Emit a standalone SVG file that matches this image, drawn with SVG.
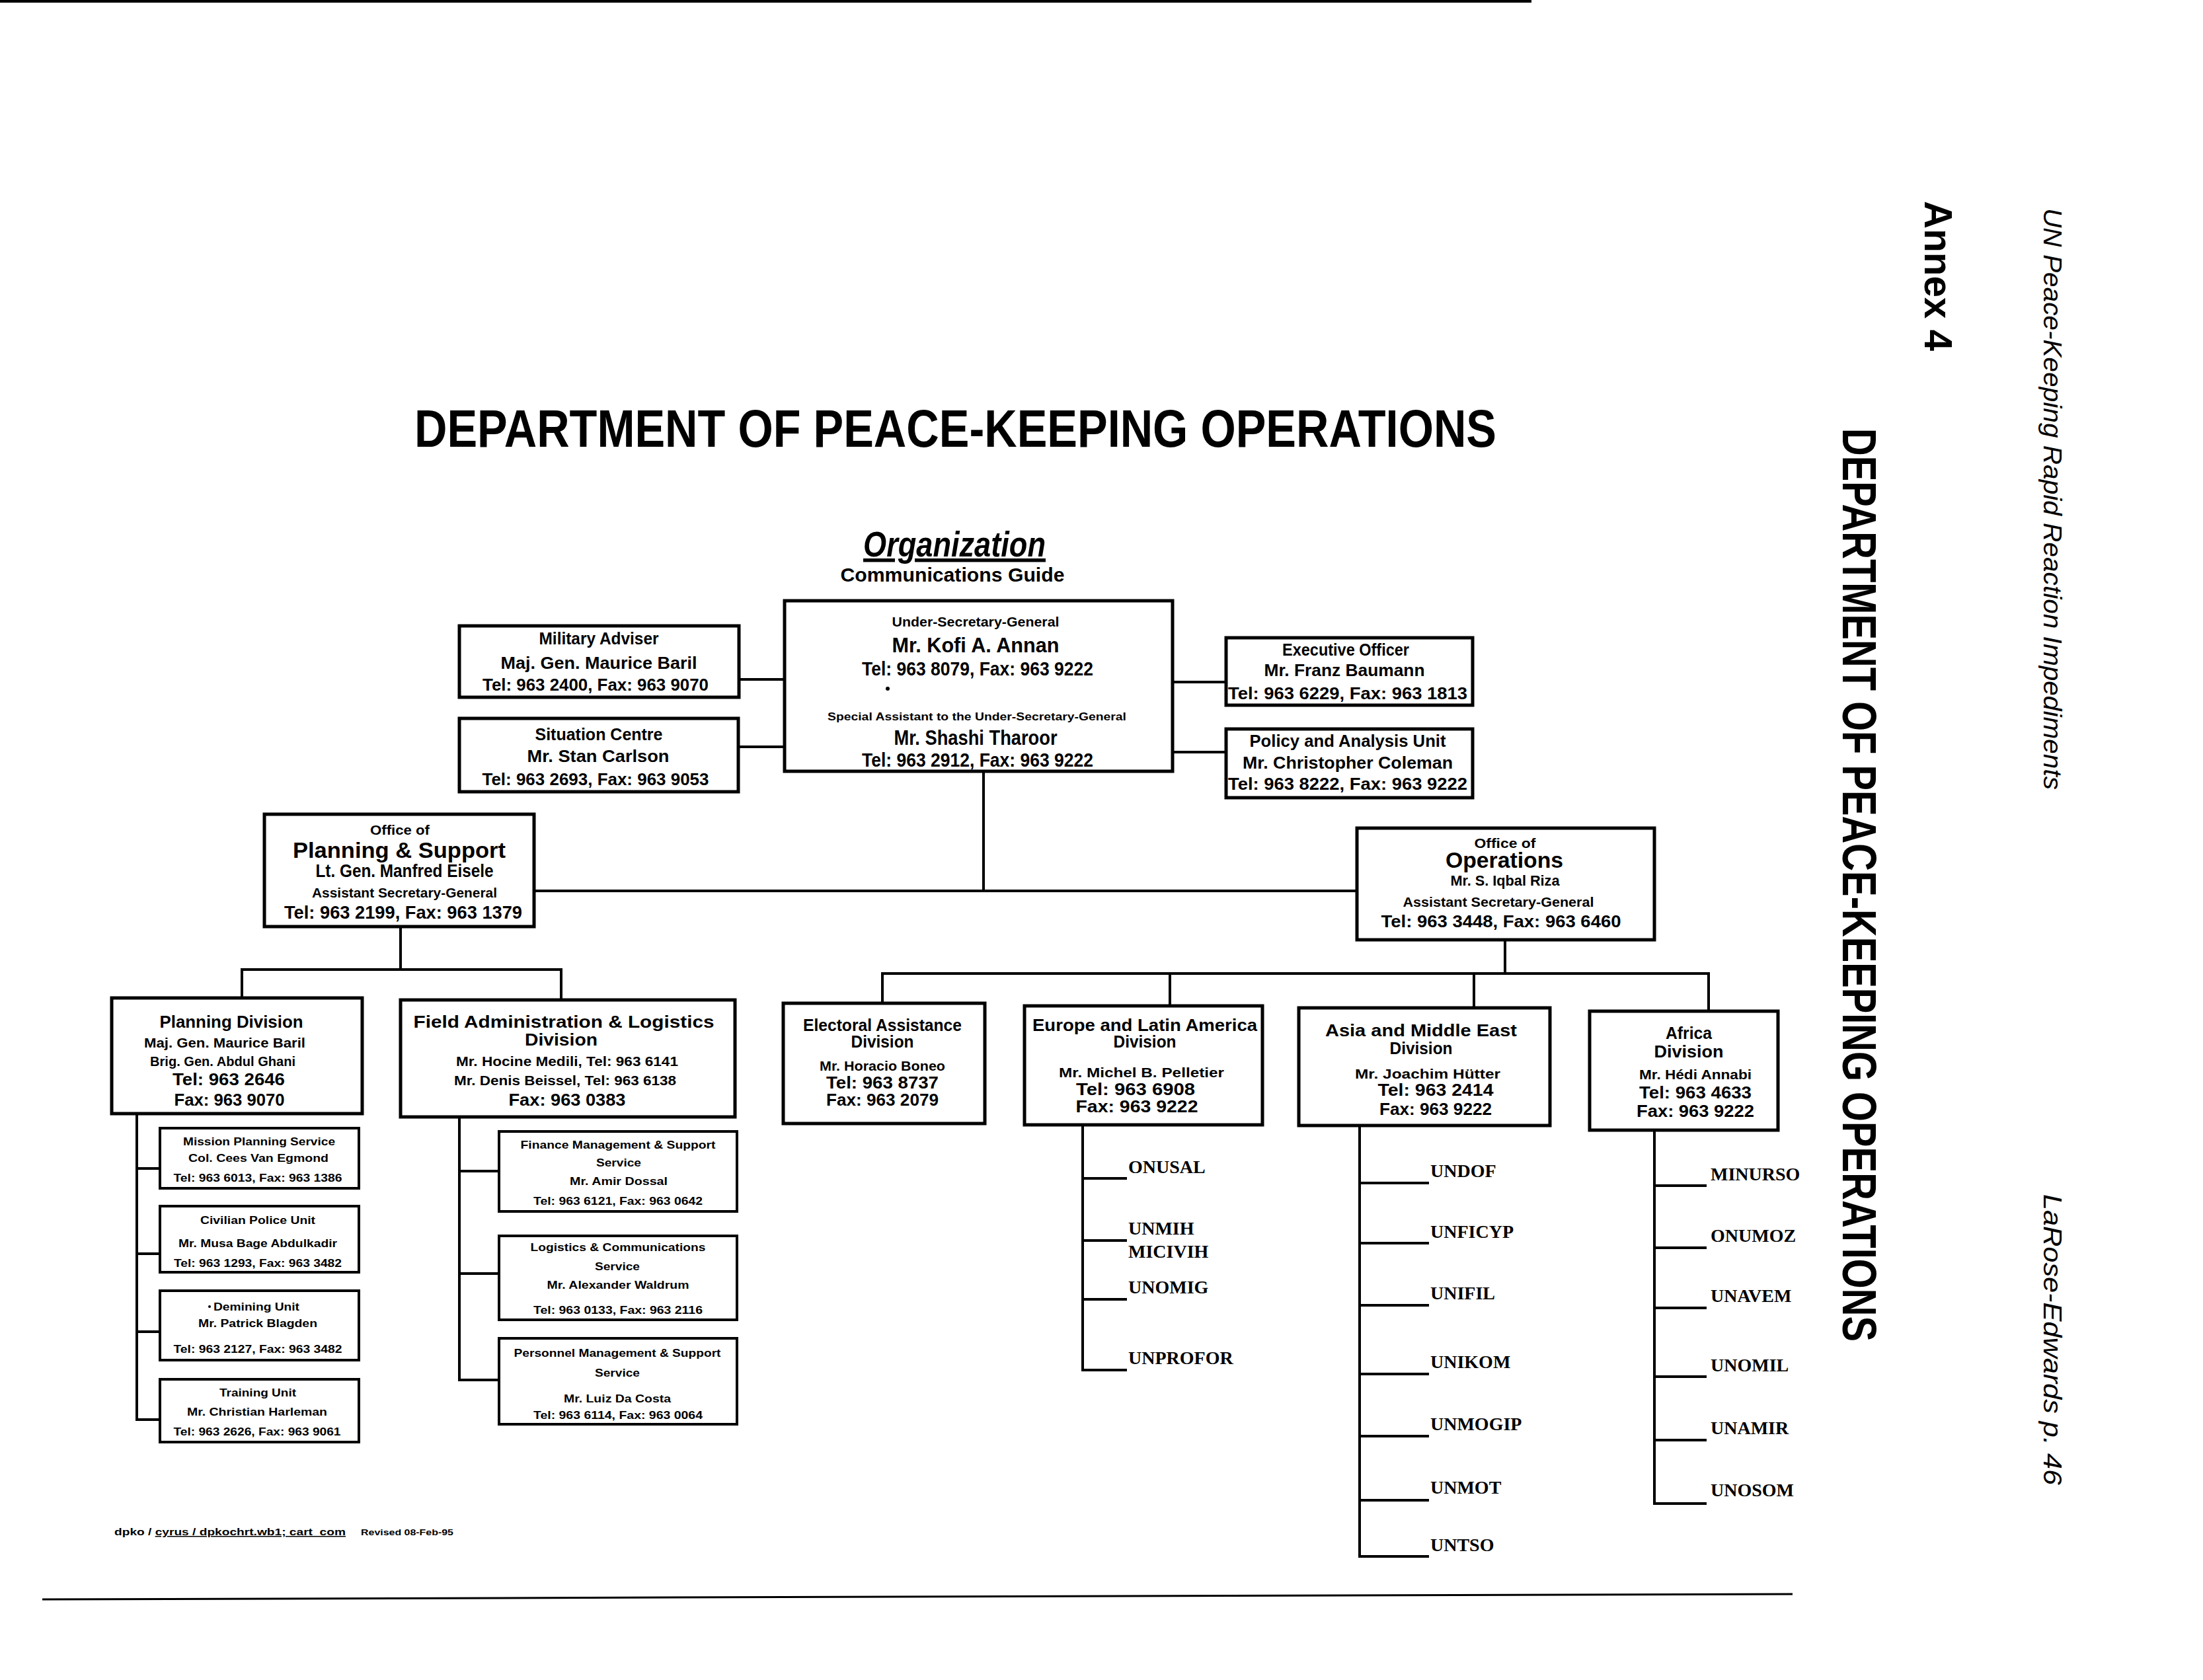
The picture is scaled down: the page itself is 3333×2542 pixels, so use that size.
<svg xmlns="http://www.w3.org/2000/svg" width="3333" height="2542" viewBox="0 0 3333 2542">
<style>
.bx{fill:none;stroke:#000;stroke-width:5}
.sb{fill:none;stroke:#000;stroke-width:4}
.c{fill:none;stroke:#000;stroke-width:4;stroke-linecap:square}
text{font-family:"Liberation Sans",Arial,sans-serif;font-weight:bold;fill:#000}
.m{text-anchor:middle}
.s{font-family:"Liberation Serif","Times New Roman",serif;font-size:28px}
.rot{font-weight:normal;font-style:italic;font-size:38px}
</style>
<rect x="0" y="0" width="3333" height="2542" fill="#fff"/>
<line x1="0" y1="2" x2="2317" y2="2" stroke="#000" stroke-width="4"/>
<line x1="64" y1="2420" x2="2712" y2="2412" stroke="#000" stroke-width="3"/>

<g id="headings">
<text x="627" y="676" font-size="80" textLength="1637" lengthAdjust="spacingAndGlyphs">DEPARTMENT OF PEACE-KEEPING OPERATIONS</text>
<text x="1444" y="842" class="m" font-size="54" font-style="italic" text-decoration="underline" textLength="276" lengthAdjust="spacingAndGlyphs">Organization</text>
<text x="1441" y="880" class="m" font-size="30" textLength="339" lengthAdjust="spacingAndGlyphs">Communications Guide</text>
<text transform="translate(3092,315) rotate(90)" class="rot" textLength="880" lengthAdjust="spacingAndGlyphs">UN Peace-Keeping Rapid Reaction Impediments</text>
<text transform="translate(3092,1807) rotate(90)" class="rot" textLength="440" lengthAdjust="spacingAndGlyphs">LaRose-Edwards  p. 46</text>
<text transform="translate(2912,304) rotate(90)" font-size="60" textLength="227" lengthAdjust="spacingAndGlyphs">Annex 4</text>
<text transform="translate(2788,648) rotate(90)" font-size="72" textLength="1382" lengthAdjust="spacingAndGlyphs">DEPARTMENT OF PEACE-KEEPING OPERATIONS</text>
<text x="173" y="2323" font-size="15" textLength="350" lengthAdjust="spacingAndGlyphs">dpko / <tspan text-decoration="underline">cyrus / dpkochrt.wb1; cart_com</tspan></text>
<text x="546" y="2323" font-size="12" textLength="140" lengthAdjust="spacingAndGlyphs">Revised 08-Feb-95</text>
</g>

<g id="connectors">
<path class="c" d="M1118,1028H1187 M1117,1130H1187 M1774,1032H1855 M1774,1138H1855"/>
<path class="c" d="M1488,1167V1348 M808,1348H2053"/>
<path class="c" d="M606,1402V1467 M366,1467H849 M366,1467V1510 M849,1467V1513"/>
<path class="c" d="M2277,1422V1473 M1335,1473H2585 M1335,1473V1518 M1770,1473V1522 M2230,1473V1525 M2585,1473V1530"/>
<path class="c" d="M207,1685V2148 M207,1768H242 M207,1897H242 M207,2015H242 M207,2148H242"/>
<path class="c" d="M695,1690V2088 M695,1772H755 M695,1927H755 M695,2088H755"/>
<path class="c" d="M1638,1702V2073 M1638,1783H1703 M1638,1877H1703 M1638,1966H1703 M1638,2073H1703"/>
<path class="c" d="M2057,1703V2355 M2057,1790H2160 M2057,1881H2160 M2057,1975H2160 M2057,2079H2160 M2057,2173H2160 M2057,2270H2160 M2057,2355H2160"/>
<path class="c" d="M2503,1710V2275 M2503,1794H2580 M2503,1888H2580 M2503,1979H2580 M2503,2083H2580 M2503,2179H2580 M2503,2275H2580"/>
</g>

<g id="usg">
<rect class="bx" x="1187" y="909" width="587" height="258"/>
<text x="1476" y="948" class="m" font-size="21" textLength="253" lengthAdjust="spacingAndGlyphs">Under-Secretary-General</text>
<text x="1476" y="987" class="m" font-size="31" textLength="253" lengthAdjust="spacingAndGlyphs">Mr. Kofi A. Annan</text>
<text x="1479" y="1022" class="m" font-size="29" textLength="350" lengthAdjust="spacingAndGlyphs">Tel: 963 8079, Fax: 963 9222</text>
<circle cx="1343" cy="1042" r="3" fill="#000"/>
<text x="1478" y="1090" class="m" font-size="17" textLength="452" lengthAdjust="spacingAndGlyphs">Special Assistant to the Under-Secretary-General</text>
<text x="1476" y="1127" class="m" font-size="31" textLength="247" lengthAdjust="spacingAndGlyphs">Mr. Shashi Tharoor</text>
<text x="1479" y="1160" class="m" font-size="29" textLength="350" lengthAdjust="spacingAndGlyphs">Tel: 963 2912, Fax: 963 9222</text>
</g>

<g id="military-adviser">
<rect class="bx" x="695" y="947" width="423" height="108"/>
<text x="906" y="975" class="m" font-size="26" textLength="181" lengthAdjust="spacingAndGlyphs">Military Adviser</text>
<text x="906" y="1012" class="m" font-size="26" textLength="297" lengthAdjust="spacingAndGlyphs">Maj. Gen. Maurice Baril</text>
<text x="901" y="1045" class="m" font-size="26" textLength="342" lengthAdjust="spacingAndGlyphs">Tel: 963 2400, Fax: 963 9070</text>
</g>

<g id="situation-centre">
<rect class="bx" x="695" y="1087" width="422" height="111"/>
<text x="906" y="1120" class="m" font-size="26" textLength="193" lengthAdjust="spacingAndGlyphs">Situation Centre</text>
<text x="905" y="1153" class="m" font-size="26" textLength="215" lengthAdjust="spacingAndGlyphs">Mr. Stan Carlson</text>
<text x="901" y="1188" class="m" font-size="26" textLength="343" lengthAdjust="spacingAndGlyphs">Tel: 963 2693, Fax: 963 9053</text>
</g>

<g id="executive-officer">
<rect class="bx" x="1855" y="965" width="373" height="102"/>
<text x="2036" y="992" class="m" font-size="26" textLength="192" lengthAdjust="spacingAndGlyphs">Executive Officer</text>
<text x="2034" y="1023" class="m" font-size="26" textLength="243" lengthAdjust="spacingAndGlyphs">Mr. Franz Baumann</text>
<text x="2039" y="1058" class="m" font-size="26" textLength="362" lengthAdjust="spacingAndGlyphs">Tel: 963 6229, Fax: 963 1813</text>
</g>

<g id="policy-analysis">
<rect class="bx" x="1855" y="1103" width="373" height="104"/>
<text x="2039" y="1130" class="m" font-size="26" textLength="297" lengthAdjust="spacingAndGlyphs">Policy and Analysis Unit</text>
<text x="2039" y="1163" class="m" font-size="26" textLength="318" lengthAdjust="spacingAndGlyphs">Mr. Christopher Coleman</text>
<text x="2039" y="1195" class="m" font-size="26" textLength="362" lengthAdjust="spacingAndGlyphs">Tel: 963 8222, Fax: 963 9222</text>
</g>

<g id="planning-support">
<rect class="bx" x="400" y="1232" width="408" height="170"/>
<text x="605" y="1263" class="m" font-size="20" textLength="90" lengthAdjust="spacingAndGlyphs">Office of</text>
<text x="604" y="1298" class="m" font-size="34" textLength="322" lengthAdjust="spacingAndGlyphs">Planning &amp; Support</text>
<text x="612" y="1327" class="m" font-size="27" textLength="269" lengthAdjust="spacingAndGlyphs">Lt. Gen. Manfred Eisele</text>
<text x="612" y="1358" class="m" font-size="20" textLength="280" lengthAdjust="spacingAndGlyphs">Assistant Secretary-General</text>
<text x="610" y="1390" class="m" font-size="27" textLength="360" lengthAdjust="spacingAndGlyphs">Tel: 963 2199, Fax: 963 1379</text>
</g>

<g id="operations">
<rect class="bx" x="2053" y="1253" width="450" height="169"/>
<text x="2277" y="1283" class="m" font-size="20" textLength="93" lengthAdjust="spacingAndGlyphs">Office of</text>
<text x="2276" y="1313" class="m" font-size="34" textLength="178" lengthAdjust="spacingAndGlyphs">Operations</text>
<text x="2277" y="1340" class="m" font-size="22" textLength="165" lengthAdjust="spacingAndGlyphs">Mr. S. Iqbal Riza</text>
<text x="2267" y="1372" class="m" font-size="20" textLength="289" lengthAdjust="spacingAndGlyphs">Assistant Secretary-General</text>
<text x="2271" y="1403" class="m" font-size="26" textLength="363" lengthAdjust="spacingAndGlyphs">Tel: 963 3448, Fax: 963 6460</text>
</g>

<g id="planning-division">
<rect class="bx" x="169" y="1510" width="379" height="175"/>
<text x="350" y="1555" class="m" font-size="26" font-weight="normal" textLength="217" lengthAdjust="spacingAndGlyphs">Planning Division</text>
<text x="340" y="1585" class="m" font-size="20" textLength="244" lengthAdjust="spacingAndGlyphs">Maj. Gen. Maurice Baril</text>
<text x="337" y="1613" class="m" font-size="20" font-weight="normal" textLength="220" lengthAdjust="spacingAndGlyphs">Brig. Gen. Abdul Ghani</text>
<text x="346" y="1642" class="m" font-size="26" textLength="170" lengthAdjust="spacingAndGlyphs">Tel: 963 2646</text>
<text x="347" y="1673" class="m" font-size="26" textLength="167" lengthAdjust="spacingAndGlyphs">Fax: 963 9070</text>
</g>

<g id="field-admin">
<rect class="bx" x="606" y="1513" width="506" height="177"/>
<text x="853" y="1555" class="m" font-size="26" font-weight="normal" textLength="455" lengthAdjust="spacingAndGlyphs">Field Administration &amp; Logistics</text>
<text x="849" y="1582" class="m" font-size="26" font-weight="normal" textLength="110" lengthAdjust="spacingAndGlyphs">Division</text>
<text x="858" y="1613" class="m" font-size="20" textLength="336" lengthAdjust="spacingAndGlyphs">Mr. Hocine Medili, Tel: 963 6141</text>
<text x="855" y="1642" class="m" font-size="20" textLength="336" lengthAdjust="spacingAndGlyphs">Mr. Denis Beissel, Tel: 963 6138</text>
<text x="858" y="1673" class="m" font-size="26" textLength="177" lengthAdjust="spacingAndGlyphs">Fax: 963 0383</text>
</g>

<g id="mission-planning">
<rect class="sb" x="242" y="1707" width="301" height="91"/>
<text x="392" y="1733" class="m" font-size="16" textLength="230" lengthAdjust="spacingAndGlyphs">Mission Planning Service</text>
<text x="391" y="1758" class="m" font-size="16" textLength="212" lengthAdjust="spacingAndGlyphs">Col. Cees Van Egmond</text>
<text x="390" y="1788" class="m" font-size="16" textLength="255" lengthAdjust="spacingAndGlyphs">Tel: 963 6013, Fax: 963 1386</text>
</g>
<g id="civilian-police">
<rect class="sb" x="242" y="1825" width="301" height="100"/>
<text x="390" y="1852" class="m" font-size="16" textLength="174" lengthAdjust="spacingAndGlyphs">Civilian Police Unit</text>
<text x="390" y="1887" class="m" font-size="16" textLength="240" lengthAdjust="spacingAndGlyphs">Mr. Musa Bage Abdulkadir</text>
<text x="390" y="1917" class="m" font-size="16" textLength="254" lengthAdjust="spacingAndGlyphs">Tel: 963 1293, Fax: 963 3482</text>
</g>
<g id="demining">
<rect class="sb" x="242" y="1953" width="301" height="105"/>
<circle cx="317" cy="1977" r="2" fill="#000"/>
<text x="388" y="1983" class="m" font-size="16" textLength="130" lengthAdjust="spacingAndGlyphs">Demining Unit</text>
<text x="390" y="2008" class="m" font-size="16" textLength="180" lengthAdjust="spacingAndGlyphs">Mr. Patrick Blagden</text>
<text x="390" y="2047" class="m" font-size="16" textLength="255" lengthAdjust="spacingAndGlyphs">Tel: 963 2127, Fax: 963 3482</text>
</g>
<g id="training">
<rect class="sb" x="242" y="2087" width="301" height="95"/>
<text x="390" y="2113" class="m" font-size="16" textLength="116" lengthAdjust="spacingAndGlyphs">Training Unit</text>
<text x="389" y="2142" class="m" font-size="16" textLength="212" lengthAdjust="spacingAndGlyphs">Mr. Christian Harleman</text>
<text x="389" y="2172" class="m" font-size="16" textLength="253" lengthAdjust="spacingAndGlyphs">Tel: 963 2626, Fax: 963 9061</text>
</g>

<g id="finance">
<rect class="sb" x="755" y="1712" width="360" height="121"/>
<text x="935" y="1738" class="m" font-size="17" textLength="295" lengthAdjust="spacingAndGlyphs">Finance Management &amp; Support</text>
<text x="936" y="1765" class="m" font-size="17" textLength="68" lengthAdjust="spacingAndGlyphs">Service</text>
<text x="936" y="1793" class="m" font-size="17" textLength="148" lengthAdjust="spacingAndGlyphs">Mr. Amir Dossal</text>
<text x="935" y="1823" class="m" font-size="17" textLength="256" lengthAdjust="spacingAndGlyphs">Tel: 963 6121, Fax: 963 0642</text>
</g>
<g id="logistics">
<rect class="sb" x="755" y="1870" width="360" height="127"/>
<text x="935" y="1893" class="m" font-size="17" textLength="265" lengthAdjust="spacingAndGlyphs">Logistics &amp; Communications</text>
<text x="934" y="1922" class="m" font-size="17" textLength="68" lengthAdjust="spacingAndGlyphs">Service</text>
<text x="935" y="1950" class="m" font-size="17" textLength="215" lengthAdjust="spacingAndGlyphs">Mr. Alexander Waldrum</text>
<text x="935" y="1988" class="m" font-size="17" textLength="256" lengthAdjust="spacingAndGlyphs">Tel: 963 0133, Fax: 963 2116</text>
</g>
<g id="personnel">
<rect class="sb" x="755" y="2025" width="360" height="130"/>
<text x="934" y="2053" class="m" font-size="17" textLength="313" lengthAdjust="spacingAndGlyphs">Personnel Management &amp; Support</text>
<text x="934" y="2083" class="m" font-size="17" textLength="68" lengthAdjust="spacingAndGlyphs">Service</text>
<text x="934" y="2122" class="m" font-size="17" textLength="162" lengthAdjust="spacingAndGlyphs">Mr. Luiz Da Costa</text>
<text x="935" y="2147" class="m" font-size="17" textLength="256" lengthAdjust="spacingAndGlyphs">Tel: 963 6114, Fax: 963 0064</text>
</g>

<g id="electoral">
<rect class="bx" x="1185" y="1518" width="305" height="182"/>
<text x="1335" y="1560" class="m" font-size="26" font-weight="normal" textLength="240" lengthAdjust="spacingAndGlyphs">Electoral Assistance</text>
<text x="1335" y="1585" class="m" font-size="26" font-weight="normal" textLength="95" lengthAdjust="spacingAndGlyphs">Division</text>
<text x="1335" y="1620" class="m" font-size="20" textLength="190" lengthAdjust="spacingAndGlyphs">Mr. Horacio Boneo</text>
<text x="1335" y="1647" class="m" font-size="26" textLength="170" lengthAdjust="spacingAndGlyphs">Tel: 963 8737</text>
<text x="1335" y="1673" class="m" font-size="26" textLength="170" lengthAdjust="spacingAndGlyphs">Fax: 963 2079</text>
</g>
<g id="europe-latin-america">
<rect class="bx" x="1550" y="1522" width="360" height="180"/>
<text x="1732" y="1560" class="m" font-size="26" font-weight="normal" textLength="340" lengthAdjust="spacingAndGlyphs">Europe and Latin America</text>
<text x="1732" y="1585" class="m" font-size="26" font-weight="normal" textLength="95" lengthAdjust="spacingAndGlyphs">Division</text>
<text x="1727" y="1630" class="m" font-size="20" textLength="250" lengthAdjust="spacingAndGlyphs">Mr. Michel B. Pelletier</text>
<text x="1718" y="1657" class="m" font-size="26" textLength="180" lengthAdjust="spacingAndGlyphs">Tel: 963 6908</text>
<text x="1720" y="1683" class="m" font-size="26" textLength="185" lengthAdjust="spacingAndGlyphs">Fax: 963 9222</text>
</g>
<g id="asia-middle-east">
<rect class="bx" x="1965" y="1525" width="380" height="178"/>
<text x="2150" y="1568" class="m" font-size="26" font-weight="normal" textLength="290" lengthAdjust="spacingAndGlyphs">Asia and Middle East</text>
<text x="2150" y="1595" class="m" font-size="26" font-weight="normal" textLength="95" lengthAdjust="spacingAndGlyphs">Division</text>
<text x="2160" y="1632" class="m" font-size="20" textLength="220" lengthAdjust="spacingAndGlyphs">Mr. Joachim Hütter</text>
<text x="2172" y="1658" class="m" font-size="26" textLength="175" lengthAdjust="spacingAndGlyphs">Tel: 963 2414</text>
<text x="2172" y="1687" class="m" font-size="26" textLength="170" lengthAdjust="spacingAndGlyphs">Fax: 963 9222</text>
</g>
<g id="africa">
<rect class="bx" x="2405" y="1530" width="285" height="180"/>
<text x="2555" y="1572" class="m" font-size="26" font-weight="normal" textLength="70" lengthAdjust="spacingAndGlyphs">Africa</text>
<text x="2555" y="1600" class="m" font-size="26" font-weight="normal" textLength="105" lengthAdjust="spacingAndGlyphs">Division</text>
<text x="2565" y="1633" class="m" font-size="20" textLength="170" lengthAdjust="spacingAndGlyphs">Mr. Hédi Annabi</text>
<text x="2565" y="1662" class="m" font-size="26" textLength="170" lengthAdjust="spacingAndGlyphs">Tel: 963 4633</text>
<text x="2565" y="1690" class="m" font-size="26" textLength="178" lengthAdjust="spacingAndGlyphs">Fax: 963 9222</text>
</g>

<g id="missions-europe">
<text class="s" x="1707" y="1775">ONUSAL</text>
<text class="s" x="1707" y="1868">UNMIH</text>
<text class="s" x="1707" y="1903">MICIVIH</text>
<text class="s" x="1707" y="1957">UNOMIG</text>
<text class="s" x="1707" y="2064">UNPROFOR</text>
</g>
<g id="missions-asia">
<text class="s" x="2164" y="1781">UNDOF</text>
<text class="s" x="2164" y="1873">UNFICYP</text>
<text class="s" x="2164" y="1966">UNIFIL</text>
<text class="s" x="2164" y="2070">UNIKOM</text>
<text class="s" x="2164" y="2164">UNMOGIP</text>
<text class="s" x="2164" y="2260">UNMOT</text>
<text class="s" x="2164" y="2347">UNTSO</text>
</g>
<g id="missions-africa">
<text class="s" x="2588" y="1786">MINURSO</text>
<text class="s" x="2588" y="1879">ONUMOZ</text>
<text class="s" x="2588" y="1970">UNAVEM</text>
<text class="s" x="2588" y="2075">UNOMIL</text>
<text class="s" x="2588" y="2170">UNAMIR</text>
<text class="s" x="2588" y="2264">UNOSOM</text>
</g>
</svg>
